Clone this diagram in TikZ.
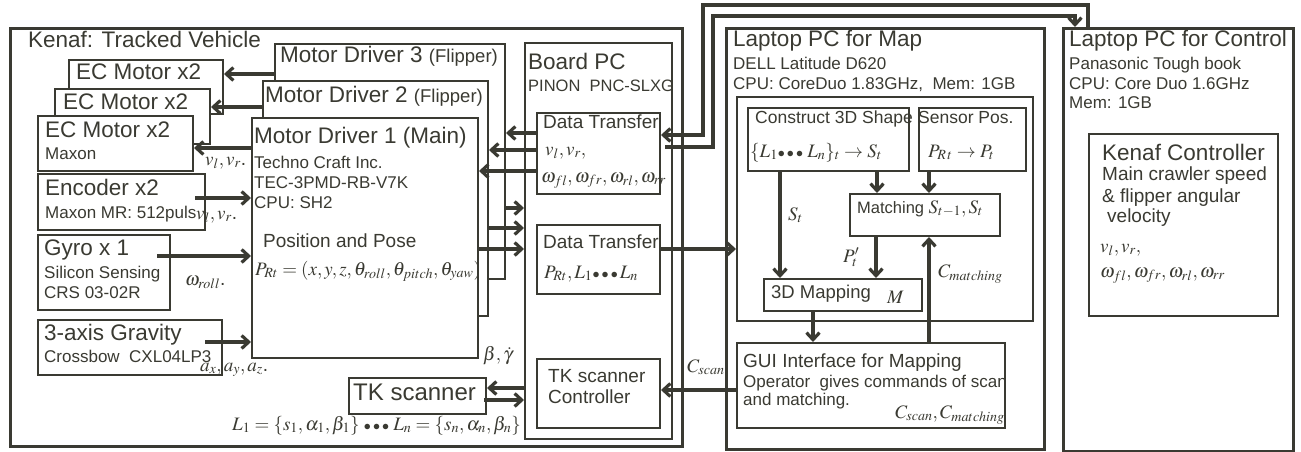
\documentclass[tikz,border=0pt]{standalone}
\usepackage{mathptmx}
\usepackage{fontspec}
\setmainfont{Liberation Sans}
\usetikzlibrary{arrows.meta}
\definecolor{ink}{RGB}{58,58,50}
\newcommand\fbig{\fontsize{22.5}{26}\selectfont}
\newcommand\fmid{\fontsize{19}{22}\selectfont}
\newcommand\fsml{\fontsize{17}{20}\selectfont}
\newcommand\fflip{\fontsize{18.5}{21}\selectfont}
\newcommand\fmth{\fontsize{19}{22}\selectfont}
% three small bullets used as an ellipsis in the formulas
\newcommand\bdots{{\scriptstyle\bullet}\,{\scriptstyle\bullet}\,{\scriptstyle\bullet}}
\tikzset{
  box/.style={draw=ink, line width=2pt, fill=white, inner sep=0pt, anchor=north west},
  frame/.style={box, line width=3.3pt},
  arr/.style={draw=ink, line width=3.2pt, line join=miter, -{Straight Barb[length=7pt,width=13pt]}},
  lbl/.style={anchor=base west, inner sep=0pt, text=ink},
}
% rectangle node from its corners: name, x1, y1, x2, y2, style
\newcommand\boxat[6]{%
  \node[#6, minimum width={#4-#2}, minimum height={#5-#3}] (#1) at (#2,#3) {};}
\begin{document}
\begin{tikzpicture}[x=1pt, y=-1pt]
\useasboundingbox (0,0) rectangle (1301,452);

% ---------- frames and blocks ----------
\boxat{kenaf}{9}{27}{681}{445}{frame}
\boxat{ec3}{68}{59}{222}{113}{box}
\boxat{ec2}{54}{88}{209}{143}{box}
\boxat{ec1}{37}{115}{192}{170}{box}
\boxat{enc}{37}{173}{204}{229}{box}
\boxat{gyro}{37}{234}{169}{309}{box}
\boxat{grav}{37}{319}{221}{374}{box}
\boxat{md3}{274}{43}{504}{278}{box}
\boxat{md2}{262}{80}{487}{315}{box}
\boxat{md1}{251}{117}{477}{357}{box}
\boxat{tks}{348}{377}{485}{413}{box}
\boxat{board}{524}{42}{671}{438}{box, line width=2.4pt}
\boxat{dt1}{536}{112}{659}{193}{box}
\boxat{dt2}{536}{224}{659}{293}{box}
\boxat{tkc}{536}{358}{659}{427}{box}
\boxat{map}{725}{27}{1043}{448}{frame}
\boxat{mapin}{736}{96}{1032}{320}{box}
\boxat{cons}{747}{107}{908}{170}{box}
\boxat{sens}{918}{107}{1025}{170}{box}
\boxat{match}{849}{193}{999}{235}{box}
\boxat{mapping}{763}{278}{921}{310}{box}
\boxat{gui}{736}{342}{1004}{427}{box}
\boxat{ctrl}{1062}{27}{1292}{450}{frame}
\boxat{kctl}{1088}{133}{1277}{315}{box}

% ---------- connectors ----------
% drivers to motors
\draw[arr] (md3.west |- 0,74) -- (ec3.east |- 0,74);
\draw[arr] (md2.west |- 0,107) -- (ec2.east |- 0,107);
\draw[arr] (md1.west |- 0,148) -- (ec1.east |- 0,148);
% sensors to main driver
\draw[arr] ([xshift=-11pt]enc.east |- 0,198) -- (md1.west |- 0,198);
\draw[arr] ([xshift=-14pt]gyro.east |- 0,256) -- (md1.west |- 0,256);
\draw[arr] ([xshift=-18pt]grav.east |- 0,342) -- (md1.west |- 0,342);
% board PC to drivers
\draw[arr] (dt1.west |- 0,133) -- (md3.east |- 0,133);
\draw[arr] (dt1.west |- 0,150) -- (md2.east |- 0,150);
\draw[arr] (dt1.west |- 0,171) -- (md1.east |- 0,171);
% drivers to board PC
\draw[arr] (md3.east |- 0,208) -- (board.west |- 0,208);
\draw[arr] (md2.east |- 0,228) -- (board.west |- 0,228);
\draw[arr] (md1.east |- 0,249) -- (board.west |- 0,249);
% scanner link
\draw[arr] (board.west |- 0,388) -- (tks.east |- 0,388);
\draw[arr] ([xshift=-3pt]tks.east |- 0,400) -- (board.west |- 0,400);
% board PC and map laptop
\draw[arr] (dt2.east |- 0,249) -- (mapin.west |- 0,249);
\draw[arr] (gui.west |- 0,390) -- (tkc.east |- 0,390);
% control laptop links
\draw[arr] (ctrl.north -| 1088,0) -- (1088,5) -- (703,5) -- (703,135) -- (dt1.east |- 0,135);
\draw[arr] ([xshift=4pt]dt1.east |- 0,147) -- (713,147) -- (713,16) -- (1075,16) -- (ctrl.north -| 1075,0);
% inside map laptop
\draw[arr] (cons.south -| 877,0) -- (match.north -| 877,0);
\draw[arr] (sens.south -| 929,0) -- (match.north -| 929,0);
\draw[arr] (cons.south -| 780,0) -- (mapping.north -| 780,0);
\draw[arr] (match.south -| 876,0) -- (mapping.north -| 876,0);
\draw[arr] (gui.north -| 929,0) -- (match.south -| 929,0);
\draw[arr] (mapping.south -| 813,0) -- (gui.north -| 813,0);

% ---------- texts ----------
\node[lbl] (tKen) at (28,48) {\fbig Kenaf: Tracked Vehicle};
\node[lbl] (tEc3) at (76,80) {\fbig EC Motor x2};
\node[lbl] (tEc2) at (63,110) {\fbig EC Motor x2};
\node[lbl] (tEc1) at (45,137) {\fbig EC Motor x2};
\node[lbl] (tEc1b) at (45,159) {\fsml Maxon};
\node[lbl] (tEnc) at (45,195) {\fbig Encoder x2};
\node[lbl] (tEncb) at (45,218) {\fsml Maxon MR: 512puls};
\node[lbl] (tGyr) at (44,255) {\fbig Gyro x 1};
\node[lbl] (tGyrb) at (44,278) {\fsml Silicon Sensing};
\node[lbl] (tGyrc) at (44,298) {\fsml CRS 03-02R};
\node[lbl] (tGrv) at (44,340) {\fbig 3-axis Gravity};
\node[lbl] (tGrvb) at (44,362) {\fsml Crossbow\ \ CXL04LP3};

\node[lbl] (tMd3) at (280,63) {\fbig Motor Driver 3 \fflip(Flipper)};
\node[lbl] (tMd2) at (265,102) {\fbig Motor Driver 2 \fflip(Flipper)};
\node[lbl] (tMd1) at (254,143) {\fbig Motor Driver 1 (Main)};
\node[lbl] (tMd1b) at (254,168) {\fsml Techno Craft Inc.};
\node[lbl] (tMd1c) at (254,188) {\fsml TEC-3PMD-RB-V7K};
\node[lbl] (tMd1d) at (254,208) {\fsml CPU: SH2};
\node[lbl] (tPos) at (263,247) {\fmid Position and Pose};
\node[lbl] (tPosm) at (255,275) {\fmth $P_{Rt}=(x,y,z,\theta_{roll},\theta_{pitch},\theta_{yaw})$};
\node[lbl] (tTks) at (353,400) {\fontsize{24}{27}\selectfont TK scanner};

\node[lbl] (lv1) at (205,165) {\fmth $v_l,v_r$.};
\node[lbl] (lv2) at (196,219) {\fmth $v_l,v_r$.};
\node[lbl] (lw) at (185,285) {\fmth $\omega_{roll}$.};
\node[lbl] (la) at (200,371) {\fmth $a_x,a_y,a_z$.};
\node[lbl] (lbg) at (483,360) {\fmth $\beta,\dot\gamma$};
\node[lbl] (lL) at (232,430) {\fmth $L_1=\{s_1,\alpha_1,\beta_1\}\;\bdots\;L_n=\{s_n,\alpha_n,\beta_n\}$};

\node[lbl] (tBrd) at (528,70) {\fbig Board PC};
\node[lbl] (tBrdb) at (528,92) {\fontsize{16.5}{19}\selectfont PINON\ \ PNC-SLXG};
\node[lbl] (tDt1) at (543,128) {\fmid Data Transfer};
\node[lbl] (tDt1a) at (545,155) {\fmth $v_l,v_r,$};
\node[lbl] (tDt1b) at (541,182) {\fmth $\omega_{fl},\omega_{fr},\omega_{rl},\omega_{rr}$};
\node[lbl] (tDt2) at (543,248) {\fmid Data Transfer};
\node[lbl] (tDt2a) at (544,278) {\fmth $P_{Rt},L_1\bdots\,L_n$};
\node[lbl] (tTkc) at (548,382) {\fmid TK scanner};
\node[lbl] (tTkcb) at (548,403) {\fmid Controller};
\node[lbl] (lCs) at (687,372) {\fmth $C_{scan}$};

\node[lbl] (tMap) at (733,47) {\fbig Laptop PC for Map};
\node[lbl] (tMapb) at (733,70) {\fsml DELL Latitude D620};
\node[lbl] (tMapc) at (733,89) {\fsml CPU: CoreDuo 1.83GHz,\ \ Mem: 1GB};
\node[lbl] (tCons) at (755,123) {\fontsize{17.5}{20}\selectfont Construct 3D Shape};
\node[lbl] (tConsm) at (750,157) {\fmth $\{L_1\bdots\;L_n\}_t\rightarrow S_t$};
\node[lbl] (tSens) at (918,123) {\fontsize{17.5}{20}\selectfont Sensor Pos.};
\node[lbl] (tSensm) at (928,157) {\fmth $P_{R\,t}\rightarrow P_t$};
\node[lbl] (tMat) at (857,213) {\fontsize{16.5}{19}\selectfont Matching \fmth$S_{t-1},S_t$};
\node[lbl] (lSt) at (788,220) {\fmth $S_t$};
\node[lbl] (lPt) at (843,262) {\fmth $P_t'$};
\node[lbl] (lCm) at (938,277) {\fmth $C_{matching}$};
\node[lbl] (tMpg) at (771,298) {\fontsize{18.5}{21}\selectfont 3D Mapping};
\node[lbl] (tMpgm) at (887,303) {\fmth $M$};
\node[lbl] (tGui) at (743,367) {\fmid GUI Interface for Mapping};
\node[lbl] (tGuib) at (743,387) {\fsml Operator\ \ gives commands of scan};
\node[lbl] (tGuic) at (743,405) {\fsml and matching.};
\node[lbl] (tGuim) at (895,418) {\fmth $C_{scan},C_{matching}$};

\node[lbl] (tCtl) at (1069,47) {\fbig Laptop PC for Control};
\node[lbl] (tCtlb) at (1069,70) {\fsml Panasonic Tough book};
\node[lbl] (tCtlc) at (1069,89) {\fsml CPU: Core Duo 1.6GHz};
\node[lbl] (tCtld) at (1069,108) {\fsml Mem: 1GB};
\node[lbl] (tKc) at (1102,160) {\fbig Kenaf Controller};
\node[lbl] (tKcb) at (1102,180) {\fmid Main crawler speed};
\node[lbl] (tKcc) at (1102,202) {\fmid \& flipper angular};
\node[lbl] (tKcd) at (1107,222) {\fmid velocity};
\node[lbl] (tKce) at (1100,252) {\fmth $v_l,v_r,$};
\node[lbl] (tKcf) at (1100,277) {\fmth $\omega_{fl},\omega_{fr},\omega_{rl},\omega_{rr}$};
\end{tikzpicture}
\end{document}
